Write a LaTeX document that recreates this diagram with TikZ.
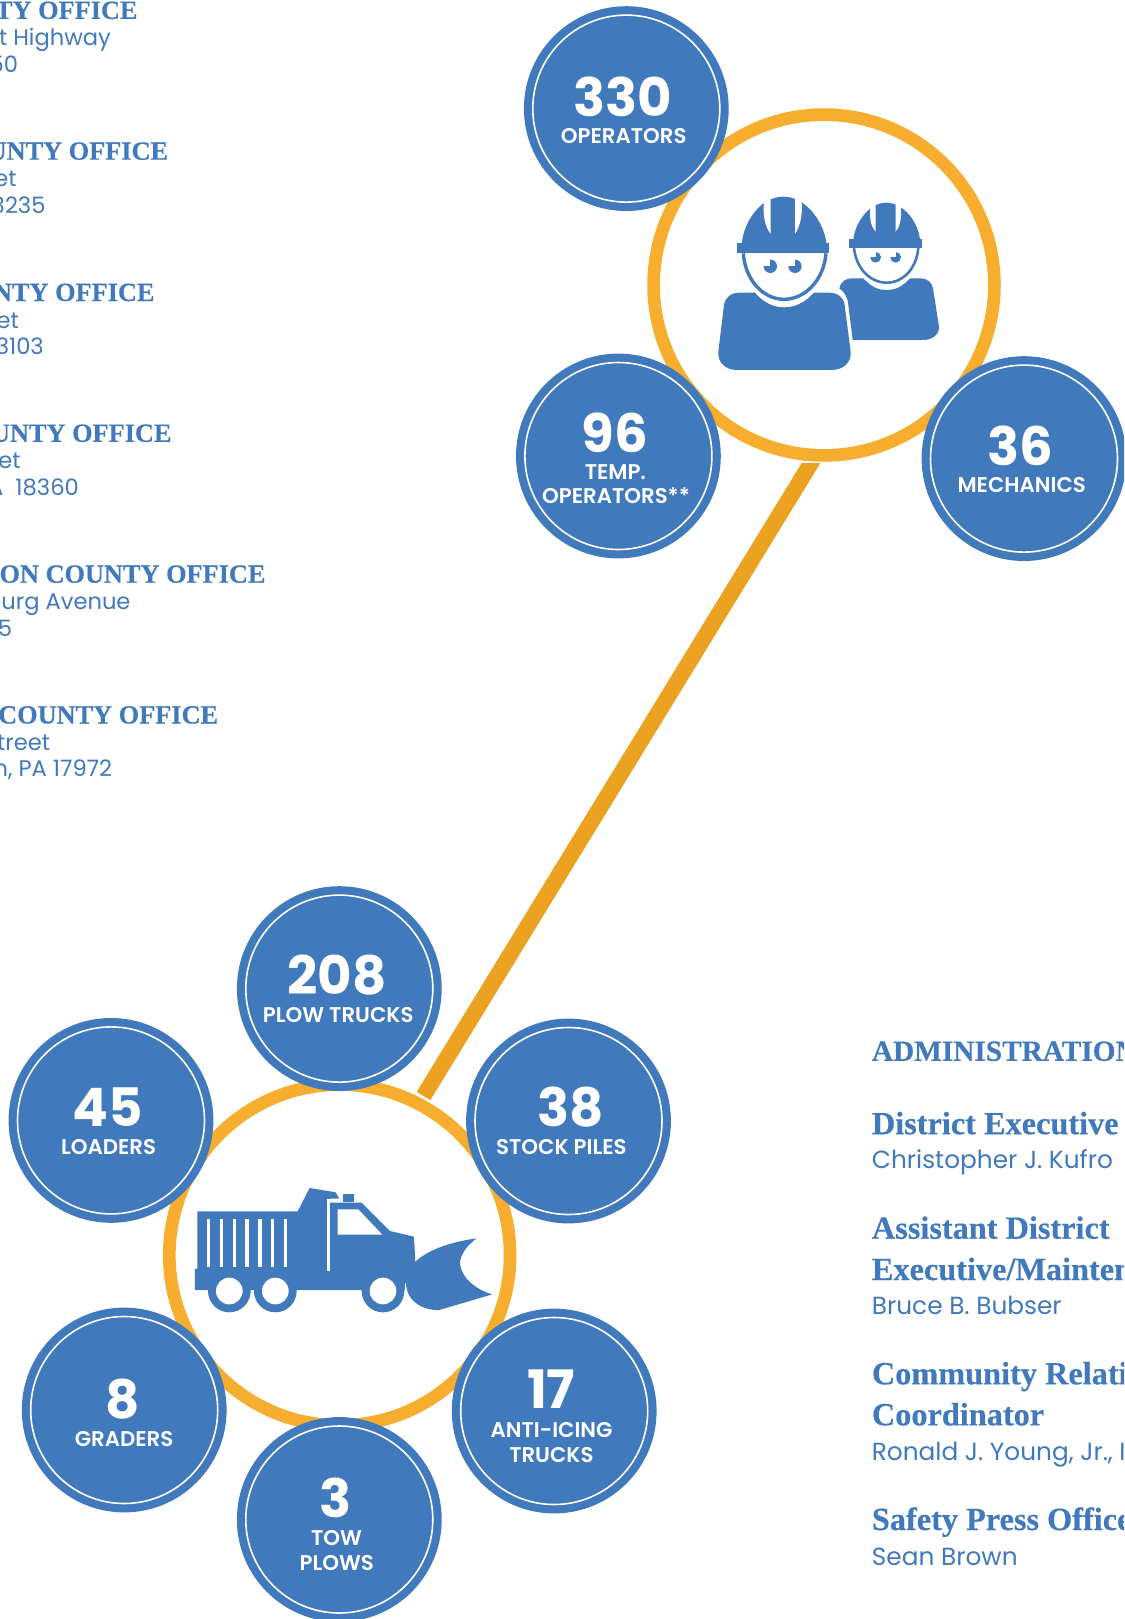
\documentclass[tikz,border=0pt]{standalone}
\usepackage{fontspec}
\setmainfont{Liberation Serif}
\newfontfamily\headfont{Liberation Serif}[BoldFeatures={FakeBold=0.35}]
\newfontfamily\numfont{Poppins}
\newfontfamily\lblfont{Poppins SemiBold}
\newfontfamily\bodyfont{Poppins}
\definecolor{bluefill}{HTML}{4179BD}
\definecolor{ringorange}{HTML}{F7AE2E}
\definecolor{linkorange}{HTML}{EAA220}
\tikzset{
  badge/.style={circle,fill=bluefill,minimum size=204.8pt,inner sep=0pt,
    path picture={\draw[white,line width=1.6pt] (path picture bounding box.center) circle (93.5pt);}},
  ringnode/.style={circle,draw=ringorange,line width=12.7pt,minimum size=340.8pt,inner sep=0pt,fill=white},
  linkline/.style={draw=linkorange,line width=16pt},
  numtxt/.style={anchor=base,inner sep=0pt,text=white,font=\numfont\bfseries\fontsize{53}{60}\selectfont},
  lbltxt/.style={anchor=base,inner sep=0pt,text=white,font=\lblfont\fontsize{21.3}{24}\selectfont},
  headL/.style={anchor=base east,inner sep=0pt,text=bluefill,font=\headfont\bfseries\fontsize{26.3}{32}\selectfont},
  bodyL/.style={anchor=base east,inner sep=0pt,text=bluefill,font=\bodyfont\fontsize{22.6}{27}\selectfont},
  headR/.style={anchor=base west,inner sep=0pt,text=bluefill,font=\headfont\bfseries\fontsize{32.3}{36}\selectfont},
  headRcaps/.style={anchor=base west,inner sep=0pt,text=bluefill,font=\headfont\bfseries\fontsize{29.3}{36}\selectfont},
  bodyR/.style={anchor=base west,inner sep=0pt,text=bluefill,font=\bodyfont\fontsize{24.8}{27}\selectfont},
  icon/.style={fill=bluefill,draw=none},
  iconwhite/.style={fill=white,draw=none},
}
\newcommand{\eyeglyph}[3]{%
  \fill[bluefill] (#1,#2) circle (#3);
  \fill[white] (#1,#2) -- ++(-#3-1,0) -- ++(0,-#3-1) -- ++(#3+1,0) -- cycle;
}
\begin{document}
\begin{tikzpicture}[x=1pt,y=-1pt]
\clip (0,0) rectangle (1124,1619);
\fill[white] (0,0) rectangle (1124,1619);
% link between the two rings
\coordinate (linktop) at (815.6,455.6);
\coordinate (linkbot) at (423.5,1096);
\begin{scope}
  \clip (0,463) rectangle (1124,1619);
  \draw[linkline] (linktop) -- (linkbot);
\end{scope}
% rings
\node[ringnode] (crewring) at (824,285) {};
\node[ringnode] (plowring) at (339.7,1255) {};
% workers icon
\begin{scope}[shift={(700,180)},x=0.3333pt,y=-0.3333pt]
  % back worker
  \fill[icon] (418,325) .. controls (425,300) and (440,295) .. (460,295) -- (490,295)
     .. controls (515,322) and (535,330) .. (560,330) .. controls (585,330) and (605,322) .. (630,295)
     -- (660,295) .. controls (685,295) and (698,310) .. (700,330) -- (717,440)
     .. controls (718,465) and (695,480) .. (670,480) -- (458,480) -- (445,375)
     .. controls (442,350) and (435,338) .. (418,325) -- cycle;
  \draw[bluefill,line width=2.6pt] (462,203) .. controls (468,265) and (510,308) .. (560,308)
     .. controls (610,308) and (650,265) .. (655,203);
  \fill[icon] (447,178) rectangle (667,203);
  \fill[icon] (460,180) .. controls (465,125) and (510,68) .. (558,68) .. controls (610,68) and (655,125) .. (660,180) -- cycle;
  \fill[white] (511,85) .. controls (508,115) and (513,140) .. (527,155) -- (527,68) -- (511,72) -- cycle;
  \fill[white] (587,68) -- (587,155) .. controls (600,140) and (605,115) .. (603,85) -- (603,72) -- cycle;
  \eyeglyph{527}{232}{16}
  \eyeglyph{587}{232}{16}
  % front worker
  \fill[icon] (55,515) -- (72,375) .. controls (76,350) and (95,338) .. (120,338) -- (165,338)
     .. controls (190,368) and (220,382) .. (252,382) .. controls (285,382) and (315,368) .. (342,338)
     -- (385,338) .. controls (412,338) and (430,350) .. (434,375) -- (452,515)
     .. controls (455,548) and (428,570) .. (395,570) -- (110,570)
     .. controls (78,570) and (52,548) .. (55,515) -- cycle;
  \draw[bluefill,line width=3.4pt] (130,220) .. controls (135,300) and (190,358) .. (252,358)
     .. controls (315,358) and (372,300) .. (378,220);
  \fill[icon] (110,190) rectangle (388,220);
  \fill[icon] (125,192) .. controls (132,120) and (185,50) .. (250,50) .. controls (315,50) and (370,120) .. (380,192) -- cycle;
  \fill[white] (192,68) .. controls (188,105) and (195,140) .. (212,162) -- (212,50) -- (192,55) -- cycle;
  \fill[white] (285,50) -- (285,162) .. controls (300,140) and (308,105) .. (305,68) -- (305,55) -- cycle;
  \eyeglyph{211}{259}{20}
  \eyeglyph{285}{259}{20}
\end{scope}
% truck icon
\begin{scope}[shift={(160,1150)},x=0.3333pt,y=-0.3333pt]
  \fill[icon] (105,420) -- (105,356) -- (112,356) -- (112,184) -- (413,184) -- (449,114)
     -- (527,127) -- (538,146) -- (511,146) -- (511,158) -- (605,158) -- (690,243) -- (762,260)
     -- (766,335) -- (766,400) -- (735,400) -- (735,420) -- cycle;
  \fill[white] (502,146) rectangle (511,364);
  \fill[white] (511,146) rectangle (540,157);
  \fill[icon] (549,133) rectangle (582,157);
  \fill[white] (533,178) -- (595,178) -- (667,254) -- (533,254) -- cycle;
  \foreach \sx in {141,179,218,256,295,333,372} {\fill[white] (\sx,208) rectangle (\sx+10,350);}
  \fill[icon] (208,423) circle (64);
  \fill[icon] (346,423) circle (64);
  \fill[icon] (669,423) circle (64);
  \fill[white] (208,423) circle (40);
  \fill[white] (346,423) circle (40);
  \fill[white] (669,423) circle (40);
  \fill[icon] (766,335) .. controls (810,295) and (880,275) .. (950,265)
     .. controls (915,290) and (900,320) .. (900,342) .. controls (905,385) and (950,420) .. (997,433)
     -- (838,480) .. controls (790,482) and (740,455) .. (738,400) -- (755,380) -- cycle;
\end{scope}
% badges
\node[badge] (b330) at (626.3,108.6) {};
\node[badge] (b96) at (618.4,456) {};
\node[badge] (b36) at (1024,458.6) {};
\node[badge] (b208) at (339.3,988.6) {};
\node[badge] (b45) at (111,1120.4) {};
\node[badge] (b38) at (568.5,1121) {};
\node[badge] (b8) at (124.2,1410) {};
\node[badge] (b17) at (554.2,1411) {};
\node[badge] (b3) at (339.3,1519.5) {};
% badge texts
\node[numtxt] (n330) at (622.8,116.5) {330};
\node[lbltxt] (l330) at (623.7,143.5) {OPERATORS};
\node[numtxt] (n96) at (615,452) {96};
\node[lbltxt] (l96a) at (615.4,479.1) {TEMP.};
\node[lbltxt] (l96b) at (616,503.9) {OPERATORS**};
\node[numtxt] (n36) at (1020.5,465.4) {36};
\node[lbltxt] (l36) at (1021.7,492) {MECHANICS};
\node[numtxt] (n208) at (337.2,994.5) {208};
\node[lbltxt] (l208) at (338.2,1022.3) {PLOW TRUCKS};
\node[numtxt] (n45) at (107.8,1126.5) {45};
\node[lbltxt] (l45) at (108.6,1154.3) {LOADERS};
\node[numtxt] (n38) at (570.9,1126.5) {38};
\node[lbltxt] (l38) at (561.4,1154.3) {STOCK PILES};
\node[numtxt] (n8) at (122.9,1418.6) {8};
\node[lbltxt] (l8) at (124,1446) {GRADERS};
\node[numtxt] (n17) at (551.2,1408.7) {17};
\node[lbltxt] (l17a) at (551.6,1437.5) {ANTI-ICING};
\node[lbltxt] (l17b) at (551.4,1462.5) {TRUCKS};
\node[numtxt] (n3) at (335.4,1517) {3};
\node[lbltxt] (l3a) at (336.5,1545) {TOW};
\node[lbltxt] (l3b) at (336.7,1570) {PLOWS};
% left column
\node[headL] (a1) at (137.7,18.9) {TY OFFICE};
\node[bodyL] (a2) at (111,46) {et Highway};
\node[bodyL] (a3) at (18.3,72) {50};
\node[headL] (c1) at (168.3,159.7) {UNTY OFFICE};
\node[bodyL] (c2) at (16.7,186.7) {et};
\node[bodyL] (c3) at (45.7,213.3) {3235};
\node[headL] (d1) at (154.7,301) {NTY OFFICE};
\node[bodyL] (d2) at (19,328) {et};
\node[bodyL] (d3) at (44,354.6) {3103};
\node[headL] (e1) at (171.7,441.8) {UNTY OFFICE};
\node[bodyL] (e2) at (20.7,468.4) {et};
\node[bodyL] (e3) at (79,495) {A\ \ 18360};
\node[headL] (f1) at (265.7,582.7) {TON COUNTY OFFICE};
\node[bodyL] (f2) at (130.7,609.7) {ourg Avenue};
\node[bodyL] (f3) at (12.3,636) {5};
\node[headL] (g1) at (218.3,723.5) {COUNTY OFFICE};
\node[bodyL] (g2) at (50.3,750) {treet};
\node[bodyL] (g3) at (112.3,776.5) {n, PA 17972};
% right column
\node[headRcaps] (r1) at (871.7,1060.8) {ADMINISTRATION};
\node[headR] (r2) at (871.7,1134.2) {District Executive};
\node[bodyR] (r3) at (871.7,1168.8) {Christopher J. Kufro};
\node[headR] (r4) at (871.7,1238.7) {Assistant District};
\node[headR] (r5) at (871.7,1280) {Executive/Mainten};
\node[bodyR] (r6) at (871.7,1314.7) {Bruce B. Bubser};
\node[headR] (r7) at (871.7,1384.3) {Community Relati};
\node[headR] (r8) at (871.7,1425.3) {Coordinator};
\node[bodyR] (r9) at (871.7,1460.7) {Ronald J. Young, Jr., I};
\node[headR] (r10) at (871.7,1530) {Safety Press Office};
\node[bodyR] (r11) at (871.7,1565.7) {Sean Brown};
\end{tikzpicture}
\end{document}
